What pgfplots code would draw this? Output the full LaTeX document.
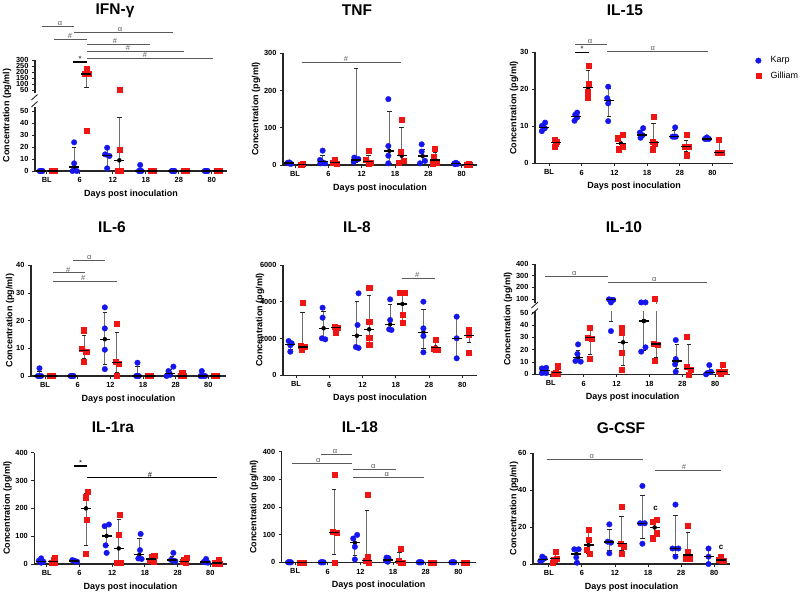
\documentclass[border=0pt]{standalone}
\usepackage{fontspec}
\setmainfont{Liberation Sans}
\usepackage{pgfplots}
\usepackage{pgfplotstable}
\pgfplotsset{compat=1.18}

\definecolor{kblue}{HTML}{1515EE}
\definecolor{gred}{HTML}{EE1515}
\definecolor{whiskc}{HTML}{6E6E6E}
\definecolor{sigc}{HTML}{5A5A5A}
\definecolor{axc}{HTML}{262626}

\newcommand{\tickfont}{\bfseries\fontsize{7.4}{8}\selectfont}
\newcommand{\titlefont}{\bfseries\fontsize{15.5}{17}\selectfont}
\newcommand{\labfont}{\bfseries\fontsize{9}{10}\selectfont}
\newcommand{\sigfont}{\fontsize{7.5}{8}\selectfont}

% summary per group: x, median, low and high whisker
\pgfplotstableread{
x m lo hi
-0.17 0 0 0
0.83 3.3 0 19.4
1.83 13 3 19
2.83 0 0 3.5
3.83 0 0 0
4.83 0 0 0
}\ifnK
\pgfplotstableread{
x m lo hi
0.2 0 0 0
2.2 8.9 0 44.4
3.2 0 0 0
4.2 0 0 0
5.2 0 0 0
}\ifnG
\pgfplotstableread{
x m lo hi
1.2 183 75 222
}\ifnGu
\pgfplotstableread{
x m lo hi
-0.17 5 3 7
0.83 9 3 25
1.83 13.5 8 258
2.83 38 5 145
3.83 24 8 43
4.83 4 2 5
}\tnfK
\pgfplotstableread{
x m lo hi
0.2 2 1 3
1.2 7 4 12
2.2 9 3 25
3.2 25 6 100
4.2 13.5 3 35
5.2 2 1 3
}\tnfG
\pgfplotstableread{
x m lo hi
-0.17 9.7 8.8 10.6
0.83 12.6 11.8 13.4
1.83 16.9 12.6 20.1
2.83 7.65 7 9
3.83 7.2 7 9
4.83 6.6 6.5 6.9
}\fifK
\pgfplotstableread{
x m lo hi
0.2 5.6 4.8 6.2
1.2 20.4 18.3 25
2.2 5.4 4 7.5
3.2 5.6 4.5 10.8
4.2 4.5 3.1 6.3
5.2 2.9 2.9 6.3
}\fifG
\pgfplotstableread{
x m lo hi
-0.17 0 0 1.5
0.83 0 0 0
1.83 13.3 4.2 23
2.83 0 0 3.5
3.83 1 0 2.5
4.83 0 0 0.5
}\sixK
\pgfplotstableread{
x m lo hi
0.2 0 0 0
1.2 9.2 6.4 14.8
2.2 4.8 1.2 15.6
3.2 0 0 0
4.2 0 0 0.8
5.2 0 0 0
}\sixG
\pgfplotstableread{
x m lo hi
-0.17 1690 1400 1850
0.83 2557 2000 3498
1.83 2154 1460 4004
2.83 2774 2500 3862
3.83 2339 1469 3607
4.83 2013 960 3150
}\eigK
\pgfplotstableread{
x m lo hi
0.2 1541 1400 3405
1.2 2590 2400 2650
2.2 2502 1700 4368
3.2 3878 2900 4494
4.2 1523 1400 1800
5.2 2154 1800 2450
}\eigG
\pgfplotstableread{
x m lo hi
-0.17 3 1 5
0.83 13.8 10.5 19
3.83 10.8 5 24.3
4.83 1.6 0 6.6
}\tenK
\pgfplotstableread{
x m lo hi
1.83 97 42.7 100
2.83 43.3 19 75
}\tenKx
\pgfplotstableread{
x m lo hi
0.2 1.5 0.5 4.6
1.2 29.7 16.2 39.5
2.2 26 7 36.8
4.2 4.6 0 24.3
5.2 2 0.5 6.2
}\tenG
\pgfplotstableread{
x m lo hi
3.2 24.6 13.5 77
}\tenGx
\pgfplotstableread{
x m lo hi
-0.17 9.6 5 18
0.83 11 9 13
1.83 101 65 140
2.83 33 20 93
3.83 14 10 28
4.83 7 5 14
}\raK
\pgfplotstableread{
x m lo hi
0.2 9.6 5 18
1.2 200 68 252
2.2 56 5 160
3.2 18 10 28
4.2 10 5 20
5.2 4 2 10
}\raG
\pgfplotstableread{
x m lo hi
-0.17 0 0 0
0.83 0 0 0
1.83 71 26 92
2.83 8 3 14
3.83 0 0 0
4.83 0 0 0
}\etK
\pgfplotstableread{
x m lo hi
0.2 0 0 0
1.2 108 29 265
2.2 6 0 189
3.2 2 0 36
4.2 0 0 0
5.2 0 0 0
}\etG
\pgfplotstableread{
x m lo hi
-0.17 2.6 1.8 3.8
0.83 5.4 1 8
1.83 12 7.2 19
2.83 22.1 13.6 37
3.83 8.4 5 26.1
4.83 4 0.5 8
}\gcK
\pgfplotstableread{
x m lo hi
0.2 2.9 1.8 5.4
1.2 10.3 5.8 17
2.2 11 7.6 26
3.2 19.8 15.3 23.5
4.2 4.9 4 17
5.2 2.2 1.8 4
}\gcG

\pgfplotsset{
  panel/.style={
    scale only axis, anchor=south west, clip=true,
    axis x line*=bottom, axis y line*=left,
    axis line style={line width=1.1pt, draw=axc, -},
    x axis line style={-}, y axis line style={-},
    tick align=outside, major tick length=3pt,
    tick style={line width=0.9pt, draw=axc},
    xtick={0,1,2,3,4,5}, xticklabels={BL,6,12,18,28,80},
    ticklabel style={font=\tickfont},
    /pgf/number format/assume math mode=true,
    /pgf/number format/1000 sep={},
    ymin=0,
  },
  upperseg/.style={panel, axis x line=none},
  karp/.style={only marks, color=kblue, mark=*, mark size=2.8pt,
    mark options={draw=kblue, fill=kblue, line width=0.3pt}},
  gill/.style={only marks, color=gred, mark=square*, mark size=2.6pt,
    mark options={draw=gred, fill=gred, line width=0.3pt}},
  med/.style={forget plot, only marks, mark=-, mark size=5pt,
    mark options={draw=black, line width=1.3pt}},
  whisk/.style={forget plot, only marks, mark=none,
    /pgfplots/error bars/y dir=both, /pgfplots/error bars/y explicit,
    /pgfplots/error bars/error bar style={line width=0.9pt, draw=whiskc},
    /pgfplots/error bars/error mark=-,
    /pgfplots/error bars/error mark options={rotate=90, draw=black!85, line width=0.9pt, mark size=2.2pt}},
  nocap/.style={/pgfplots/error bars/error mark=none},
}

\newcommand{\whisk}[2][]{\addplot[whisk,#1] table[x=x,y=m,
  y error plus expr=\thisrow{hi}-\thisrow{m},
  y error minus expr=\thisrow{m}-\thisrow{lo}] {#2};}
\newcommand{\meds}[2][]{\addplot[med,#1] table[x=x,y=m] {#2};}

\newcommand{\sigbar}[6]{\draw[#1, line width=0.9pt] (#2,#4) -- (#3,#4);
  \node[anchor=south, inner sep=0.5pt, text=#1, font=\sigfont] at (#5,#4) {#6};}
\newcommand{\starbar}[4]{\draw[black, line width=1.4pt] (#1,#3) -- (#2,#3);
  \node[anchor=south, inner sep=0.3pt, font=\sigfont] at (#4,#3) {*};}

\begin{document}
\begin{tikzpicture}
\useasboundingbox (0pt,-595pt) rectangle (800pt,0pt);

% ---------------- IFN-gamma (broken axis) ----------------
\begin{axis}[panel, at={(35pt,-171pt)}, width=192pt, height=64.2pt,
  xmin=-0.355, xmax=5.46, ymax=53.5, ytick={0,10,20,30,40,50}]
  \whisk{\ifnK} \whisk{\ifnG}
  \addplot[karp, restrict y to domain=-1:53.5] coordinates {
    (-0.215,0)(-0.185,0)(-0.155,0)(-0.125,0)
    (0.83,23.9)(0.83,6.4)(0.78,0)(0.91,0)
    (1.83,19.4)(1.77,13.9)(1.9,12.5)(1.83,2.2)
    (2.83,5)(2.79,0)(2.83,0)(2.87,0)
    (3.785,0)(3.815,0)(3.845,0)(3.875,0)
    (4.785,0)(4.815,0)(4.845,0)(4.875,0)};
  \addplot[gill, restrict y to domain=-1:53.5] coordinates {
    (0.155,0)(0.185,0)(0.215,0)(0.245,0)
    (1.2,231)(1.14,183)(1.26,183)(1.2,33.6)
    (2.2,55)(2.2,17.5)(2.15,0)(2.25,0)
    (3.155,0)(3.185,0)(3.215,0)(3.245,0)
    (4.155,0)(4.185,0)(4.215,0)(4.245,0)
    (5.155,0)(5.185,0)(5.215,0)(5.245,0)};
  \meds{\ifnK} \meds{\ifnG}
\end{axis}
\begin{axis}[upperseg, at={(35pt,-93pt)}, width=192pt, height=33pt,
  xmin=-0.355, xmax=5.46, ymin=25, ymax=300, ytick={50,100,...,300}]
  \whisk{\ifnGu}
  \addplot[gill, restrict y to domain=53.6:400] coordinates {
    (1.2,231)(1.14,183)(1.26,183)(1.2,33.6)(2.2,55)(2.2,17.5)};
  \meds{\ifnGu}
\end{axis}

% ---------------- TNF ----------------
\begin{axis}[panel, at={(283pt,-165pt)}, width=194pt, height=111.7pt,
  xmin=-0.36, xmax=5.46, ymax=300, ytick={0,100,200,300}]
  \whisk{\tnfK} \whisk{\tnfG}
  \addplot[karp] coordinates {
    (-0.22,6)(-0.17,7)(-0.12,3)(-0.17,4)
    (0.83,38.6)(0.75,13.5)(0.76,4.5)(0.9,4.5)
    (1.78,20)(1.9,16)(1.76,8)
    (2.8,177)(2.8,51)(2.8,25)(2.8,4.5)
    (3.8,55.6)(3.8,36)(3.9,11)(3.75,4.5)
    (4.78,4)(4.83,6)(4.88,3)(4.8,2)};
  \addplot[gill] coordinates {
    (0.16,2)(0.2,1)(0.24,3)(0.2,2)
    (1.18,13.5)(1.12,7)(1.24,4.5)(1.2,6)
    (2.2,37.7)(2.13,13.5)(2.27,7)(2.2,4.5)
    (3.2,121)(3.18,36)(3.25,11.7)(3.12,7)
    (4.2,44)(4.17,21.5)(4.25,7)(4.12,4.5)
    (5.15,2)(5.2,3)(5.25,1)(5.2,2)};
  \meds{\tnfK} \meds{\tnfG}
\end{axis}

% ---------------- IL-15 (with legend) ----------------
\begin{axis}[panel, at={(535pt,-163.3pt)}, width=198pt, height=111pt,
  xmin=-0.43, xmax=5.63, ymax=30, ytick={0,10,20,30},
  legend style={draw=none, fill=none, at={(1.113,0.975)}, anchor=north west,
    font=\fontsize{9}{10}\selectfont, row sep=4.5pt, inner sep=0pt,
    nodes={inner sep=1.5pt},
    /tikz/every odd column/.append style={column sep=8pt}},
  legend cell align=left]
  \whisk{\fifK} \whisk{\fifG}
  \addplot[karp] coordinates {
    (-0.12,11.0)(-0.22,10.1)(-0.13,9.5)(-0.22,8.7)
    (0.86,13.7)(0.8,13.1)(0.86,12.4)(0.78,11.5)
    (1.81,20.7)(1.78,17.6)(1.81,16.2)(1.81,11.4)
    (2.88,9.5)(2.78,8.3)(2.86,7.6)(2.8,6.9)
    (3.86,9.7)(3.78,7.2)(3.83,7.2)(3.88,7.2)
    (4.83,7.0)(4.77,6.6)(4.83,6.6)(4.89,6.6)};
  \addlegendentry{Karp}
  \addplot[gill] coordinates {
    (0.18,6.5)(0.22,5.8)(0.2,5.4)(0.17,4.5)
    (1.2,26.4)(1.2,21.6)(1.18,19.4)(1.18,17.7)
    (2.25,7.8)(2.1,6.8)(2.12,3.8)(2.25,4.5)
    (3.2,12.6)(3.17,5.8)(3.24,5.4)(3.18,3.8)
    (4.2,7.65)(4.14,4.5)(4.26,4.5)(4.2,2.2)
    (5.2,6.3)(5.15,2.9)(5.22,2.9)(5.27,2.9)};
  \addlegendentry{Gilliam}
  \meds{\fifK} \meds{\fifG}
\end{axis}

% ---------------- IL-6 ----------------
\begin{axis}[panel, at={(31pt,-376pt)}, width=195pt, height=110.7pt,
  xmin=-0.43, xmax=5.54, ymax=40, ytick={0,10,20,30,40}]
  \whisk{\sixK} \whisk{\sixG}
  \addplot[karp] coordinates {
    (-0.17,2.8)(-0.22,0)(-0.17,0)(-0.12,0)
    (0.785,0)(0.815,0)(0.845,0)(0.875,0)
    (1.83,24.8)(1.83,17.2)(1.83,9.5)(1.83,2.5)
    (2.83,4.8)(2.79,0)(2.83,0)(2.87,0)
    (3.93,3.4)(3.78,1.8)(3.83,0.4)(3.72,0)
    (4.8,1.8)(4.76,0)(4.83,0)(4.9,0)};
  \addplot[gill] coordinates {
    (0.155,0)(0.185,0)(0.215,0)(0.245,0)
    (1.17,16.6)(1.12,10)(1.26,8.8)(1.17,5.2)
    (2.2,18.8)(2.15,5.2)(2.25,4.6)(2.2,0)
    (3.155,0)(3.185,0)(3.215,0)(3.245,0)
    (4.2,1.3)(4.15,0)(4.2,0)(4.25,0)
    (5.155,0)(5.185,0)(5.215,0)(5.245,0)};
  \meds{\sixK} \meds{\sixG}
\end{axis}

% ---------------- IL-8 ----------------
\begin{axis}[panel, at={(283pt,-375.3pt)}, width=194.3pt, height=110.3pt,
  xmin=-0.39, xmax=5.45, ymax=6000, ytick={0,2000,4000,6000}]
  \whisk{\eigK} \whisk{\eigG}
  \addplot[karp] coordinates {
    (-0.22,1866)(-0.13,1741)(-0.17,1632)(-0.17,1284)
    (0.8,3678)(0.8,3134)(0.78,2013)(0.88,1958)
    (1.88,4461)(1.85,2736)(1.8,1541)(1.88,1486)
    (2.83,4134)(2.83,3008)(2.8,2502)(2.87,2466)
    (3.83,4004)(3.83,2557)(3.83,2138)(3.83,1251)
    (4.83,3188)(4.83,2013)(4.83,925)};
  \addplot[gill] coordinates {
    (0.2,3971)(0.15,1632)(0.25,1541)(0.18,1378)
    (1.17,2644)(1.24,2590)(1.2,2557)(1.2,2317)
    (2.2,4787)(2.2,2916)(2.2,2045)(2.2,1686)
    (3.13,4494)(3.25,4494)(3.2,3318)(3.2,2883)
    (4.2,1920)(4.15,1469)(4.25,1414)(4.2,1414)
    (5.2,2466)(5.2,2212)(5.2,1251)};
  \meds{\eigK} \meds{\eigG}
\end{axis}

% ---------------- IL-10 (broken axis) ----------------
\begin{axis}[panel, at={(535pt,-374.3pt)}, width=195pt, height=63.3pt,
  xmin=-0.48, xmax=5.45, ymax=51.4, ytick={0,10,20,30,40,50}]
  \whisk{\tenK} \whisk{\tenG}
  \whisk[/pgfplots/error bars/y dir=minus]{\tenKx}
  \whisk[/pgfplots/error bars/y dir=plus, nocap]{\tenKx}
  \whisk[/pgfplots/error bars/y dir=minus]{\tenGx}
  \whisk[/pgfplots/error bars/y dir=plus, nocap]{\tenGx}
  \addplot[karp, restrict y to domain=-1:51.4] coordinates {
    (-0.27,4.8)(-0.14,5.3)(-0.27,1)(-0.14,1)
    (0.83,24.3)(0.81,16.5)(0.75,10.8)(0.91,10.3)
    (1.77,97)(1.9,92)(1.83,70)(1.83,35.1)
    (2.75,70)(2.88,70)(2.75,18.4)(2.88,21.9)
    (3.8,27.8)(3.8,12.4)(3.78,8.1)(3.8,2.1)
    (4.82,7.5)(4.87,2.1)(4.76,1)(4.72,0)};
  \addplot[gill, restrict y to domain=-1:51.4] coordinates {
    (0.22,6.7)(0.14,1.6)(0.22,0.8)(0.1,0.8)
    (1.17,37.8)(1.11,29.7)(1.25,29)(1.17,12.4)
    (2.16,37.8)(2.16,33.8)(2.16,17.5)(2.16,3.5)
    (3.17,106)(3.12,25.2)(3.25,23.8)(3.17,10.8)
    (4.14,30.5)(4.12,6.2)(4.26,3.5)(4.18,0)
    (5.22,8.1)(5.12,2.1)(5.27,2.1)(5.17,0.8)};
  \meds{\tenK} \meds{\tenG}
  \meds[restrict y to domain=-1:51.4]{\tenKx}
  \meds[restrict y to domain=-1:51.4]{\tenGx}
\end{axis}
\begin{axis}[upperseg, at={(535pt,-303pt)}, width=195pt, height=38.7pt,
  xmin=-0.48, xmax=5.45, ymin=65, ymax=400, ytick={100,200,300,400}]
  \whisk[/pgfplots/error bars/y dir=plus]{\tenKx}
  \whisk[/pgfplots/error bars/y dir=minus, nocap]{\tenKx}
  \whisk[/pgfplots/error bars/y dir=plus]{\tenGx}
  \whisk[/pgfplots/error bars/y dir=minus, nocap]{\tenGx}
  \addplot[karp, restrict y to domain=51.5:500] coordinates {
    (1.77,97)(1.9,92)(1.83,70)(2.75,70)(2.88,70)};
  \addplot[gill, restrict y to domain=51.5:500] coordinates {(3.17,106)};
  \meds[restrict y to domain=51.5:500]{\tenKx}
\end{axis}

% ---------------- IL-1ra ----------------
\begin{axis}[panel, at={(34.3pt,-564pt)}, width=192.4pt, height=111.3pt,
  xmin=-0.38, xmax=5.5, ymax=400, ytick={0,100,200,300,400}]
  \whisk{\raK} \whisk{\raG}
  \addplot[karp] coordinates {
    (-0.17,20.4)(-0.24,12)(-0.1,8.4)(-0.17,4.8)
    (0.78,14)(0.83,12)(0.88,10)(0.93,8)
    (1.77,136)(1.9,142)(1.8,67)(1.83,40)
    (2.87,108)(2.85,50)(2.8,20)(2.9,18)
    (3.87,40)(3.8,15)(3.87,12)(3.93,10)
    (4.87,18)(4.8,8)(4.87,6)(4.93,5)};
  \addplot[gill] coordinates {
    (0.24,22.8)(0.2,14.4)(0.15,6)(0.25,4.8)
    (1.24,260)(1.2,240)(1.22,160)(1.2,38)
    (2.24,178)(2.2,105)(2.15,5)(2.27,5)
    (3.28,30)(3.2,25)(3.16,12)(3.26,8)
    (4.28,24)(4.2,14)(4.15,8)(4.25,5)
    (5.25,14)(5.2,6)(5.15,3)(5.28,2)};
  \meds{\raK} \meds{\raG}
\end{axis}

% ---------------- IL-18 ----------------
\begin{axis}[panel, at={(281.7pt,-562.3pt)}, width=194pt, height=110.6pt,
  xmin=-0.41, xmax=5.53, ymax=400, ytick={0,100,200,300,400}]
  \whisk{\etK} \whisk{\etG}
  \addplot[karp] coordinates {
    (-0.215,0)(-0.185,0)(-0.155,0)(-0.125,0)
    (0.785,0)(0.815,0)(0.845,0)(0.875,0)
    (1.9,99)(1.78,86)(1.83,56)(1.83,10.5)
    (2.8,17)(2.86,15)(2.78,6)(2.84,2)
    (3.785,0)(3.815,0)(3.845,0)(3.875,0)
    (4.785,0)(4.815,0)(4.845,0)(4.875,0)};
  \addplot[gill] coordinates {
    (0.155,0)(0.185,0)(0.215,0)(0.245,0)
    (1.22,318)(1.15,111)(1.27,107)(1.22,0)
    (2.21,244)(2.21,20)(2.16,6)(2.26,0)
    (3.23,50.6)(3.18,6)(3.23,0)(3.28,0)
    (4.155,0)(4.185,0)(4.215,0)(4.245,0)
    (5.155,0)(5.185,0)(5.215,0)(5.245,0)};
  \meds{\etK} \meds{\etG}
\end{axis}

% ---------------- G-CSF ----------------
\begin{axis}[panel, at={(533pt,-564pt)}, width=197pt, height=110.7pt,
  xmin=-0.48, xmax=5.48, ymax=60, ytick={0,20,40,60}]
  \whisk{\gcK} \whisk{\gcG}
  \addplot[karp] coordinates {
    (-0.2,4.0)(-0.13,3.1)(-0.2,2.2)(-0.26,1.6)
    (0.77,8)(0.9,8)(0.83,3.6)(0.85,0.7)
    (1.83,21.5)(1.78,12.1)(1.88,11.6)(1.83,5.8)
    (2.83,42.3)(2.76,22.1)(2.9,22.1)(2.83,11)
    (3.83,32.2)(3.74,8.4)(3.92,8.4)(3.83,4)
    (4.83,8.4)(4.83,4)(4.83,0)};
  \addplot[gill] coordinates {
    (0.2,6.7)(0.24,3.1)(0.16,2.5)(0.12,0.7)
    (1.2,18.8)(1.2,13)(1.14,7.6)(1.24,5.8)
    (2.2,31.3)(2.16,11)(2.26,9.6)(2.2,5.8)
    (3.27,24.2)(3.15,22.8)(3.25,16.7)(3.15,14)
    (4.2,20.6)(4.2,6.7)(4.15,3.1)(4.25,3.1)
    (5.2,4)(5.13,2.2)(5.22,1.8)(5.28,1.8)};
  \meds{\gcK} \meds{\gcG}
\end{axis}

\begin{scope}[x=1pt, y=-1pt]
% axis breaks
\draw[axc, line width=0.9pt] (31.5,100) -- (37.5,94.5) (31.5,107) -- (37.5,101.5);
\draw[axc, line width=0.9pt] (531.5,308) -- (538,302) (531.5,314.5) -- (538,308.5);

% ---------------- titles and axis labels ----------------
\node[font=\titlefont] at (115,11) {IFN-γ};
\node[font=\titlefont] at (357,10) {TNF};
\node[font=\titlefont] at (625,10) {IL-15};
\node[font=\titlefont] at (112,227) {IL-6};
\node[font=\titlefont] at (357,227) {IL-8};
\node[font=\titlefont] at (624,227) {IL-10};
\node[font=\titlefont] at (113,427) {IL-1ra};
\node[font=\titlefont] at (360,427) {IL-18};
\node[font=\titlefont] at (621,428) {G-CSF};

\foreach \xx/\yy in {7/115.5, 256/109, 514/108, 10/320.7, 260/320, 508/319, 7.5/508, 254/507, 514/508.7}
  \node[font=\labfont, rotate=90] at (\xx,\yy) {Concentration (pg/ml)};
\foreach \xx/\yy in {131/194, 380/188, 634/186.5, 128.5/399, 380/398.5, 632.5/397.5, 130.5/587, 378.7/585.5, 631.5/587}
  \node[font=\labfont] at (\xx,\yy) {Days post inoculation};

% ---------------- significance bars ----------------
\sigbar{sigc}{42}{74}{26}{60}{α}
\sigbar{sigc}{74}{173}{32}{120}{α}
\sigbar{sigc}{54}{87}{39}{70}{\#}
\sigbar{sigc}{87}{150}{44}{115}{\#}
\sigbar{sigc}{87}{184}{51}{128}{\#}
\sigbar{sigc}{87}{213}{58}{145}{\#}
\starbar{73}{87}{62}{80}

\sigbar{sigc}{301.7}{400.7}{62.3}{346}{\#}

\sigbar{sigc}{575}{607.3}{44}{590}{α}
\starbar{575}{589.3}{52.3}{582}
\sigbar{sigc}{607.3}{708.3}{51.7}{652.7}{α}

\sigbar{sigc}{73.3}{105}{260}{89.3}{α}
\sigbar{sigc}{53.3}{85}{272.7}{68.3}{\#}
\sigbar{sigc}{53.3}{117.3}{281}{83.3}{\#}

\sigbar{sigc}{401.7}{435}{278.3}{417.3}{\#}

\sigbar{sigc}{545}{608.3}{276.7}{574.3}{α}
\sigbar{sigc}{608.3}{706.7}{282.3}{654.3}{α}

\starbar{74}{87.3}{466}{80.7}
\sigbar{black}{86.7}{217.3}{477.7}{150}{\#}

\sigbar{sigc}{320.7}{351.7}{454.3}{335}{α}
\sigbar{sigc}{291.7}{351.7}{463.3}{318.3}{α}
\sigbar{sigc}{353.3}{396}{469}{373.3}{α}
\sigbar{sigc}{353.3}{424}{477.3}{386.7}{α}

\sigbar{sigc}{546.7}{643.3}{459.3}{591.7}{α}
\sigbar{sigc}{655}{720.7}{470}{684}{\#}
\node[font=\bfseries\fontsize{8}{9}\selectfont] at (655.7,508.3) {c};
\node[font=\bfseries\fontsize{8}{9}\selectfont] at (721,547.3) {c};
\end{scope}
\end{tikzpicture}
\end{document}
